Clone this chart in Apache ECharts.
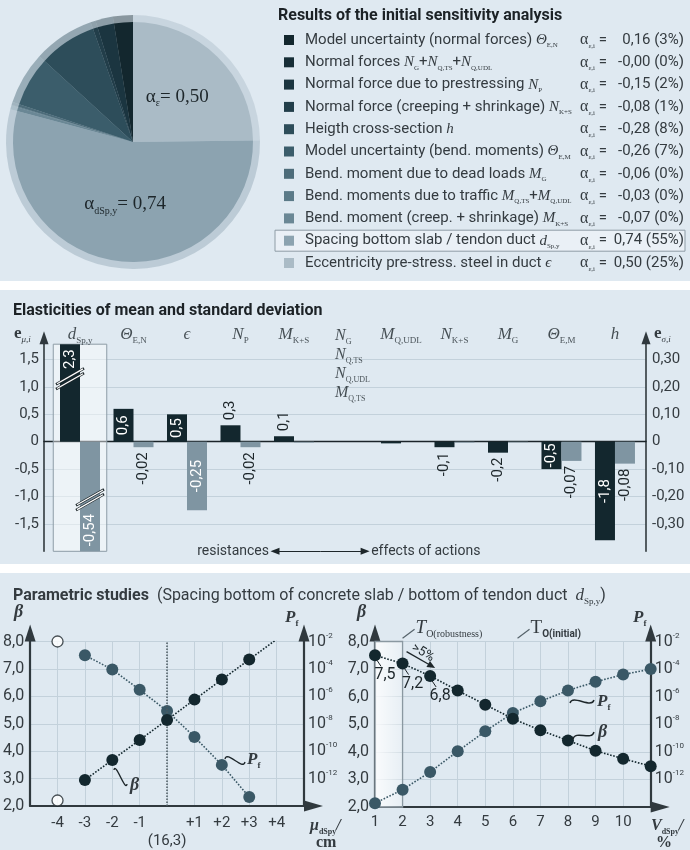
<!DOCTYPE html>
<html>
<head>
<meta charset="utf-8">
<script src="https://cdn.jsdelivr.net/npm/echarts@6.0.0/dist/echarts.min.js"></script>
<style>
html,body{margin:0;padding:0;background:#ffffff;}
#chart{width:690px;height:850px;}
</style>
</head>
<body>
<div id="chart"></div>
<script>
// ================= DATA =================
// Panel 1: sensitivity factors (legend order)
const factorNames = [
  '{t|Model uncertainty (normal forces) }{m|Θ}{s|E,N}',
  '{t|Normal forces }{m|N}{s|G}{t|+}{m|N}{s|Q,TS}{t|+}{m|N}{s|Q,UDL}',
  '{t|Normal force due to prestressing }{m|N}{s|P}',
  '{t|Normal force (creeping + shrinkage) }{m|N}{s|K+S}',
  '{t|Heigth cross-section }{m|h}',
  '{t|Model uncertainty (bend. moments) }{m|Θ}{s|E,M}',
  '{t|Bend. moment due to dead loads }{m|M}{s|G}',
  '{t|Bend. moments due to traffic }{m|M}{s|Q,TS}{t|+}{m|M}{s|Q,UDL}',
  '{t|Bend. moment (creep. + shrinkage) }{m|M}{s|K+S}',
  '{t|Spacing bottom slab / tendon duct }{m|d}{s|Sp,y}',
  '{t|Eccentricity pre-stress. steel in duct }{m|ϵ}'
];
const factorKeys = ['E,N', 'N', 'P', 'K+S', 'h', 'E,M', 'G', 'Q', 'K+S', 'dSp,y', 'ε'];
const alphaValues = [0.16, -0.00, -0.15, -0.08, -0.28, -0.26, -0.06, -0.03, -0.07, 0.74, 0.50];
const alphaShares = [3, 0, 2, 1, 8, 7, 0, 0, 0, 55, 25];
const factorColors = ['#13272e', '#172e37', '#1b3540', '#223e4a', '#2d4d5a', '#3b5d6b', '#4d6c7a', '#5b7a88', '#6a8795', '#8ca3b0', '#aabbc6'];

// Panel 2: elasticities
const elastCategories = [
  '{m|d}{s|Sp,y}', '{m|Θ}{s|E,N}', '{m|ϵ}', '{m|N}{s|P}', '{m|M}{s|K+S}',
  '{m|N}{s|G}\n{m|N}{s|Q,TS}\n{m|N}{s|Q,UDL}\n{m|M}{s|Q,TS}',
  '{m|M}{s|Q,UDL}', '{m|N}{s|K+S}', '{m|M}{s|G}', '{m|Θ}{s|E,M}', '{m|h}'
];
const elastMean = [2.3, 0.6, 0.5, 0.3, 0.1, 0, -0.03, -0.1, -0.2, -0.5, -1.8];
const elastStd = [-0.54, -0.02, -0.25, -0.02, -0.003, 0, 0, -0.003, -0.002, -0.07, -0.08];
const groupNames = ['resistances', 'effects of actions'];

// Panel 3 left: shift of mean of d_Sp,y
const muShift = [-3, -2, -1, 0, 1, 2, 3, 4];
const betaMu = [2.95, 3.68, 4.41, 5.14, 5.88, 6.61, 7.34, 8.08];
const muShiftPf = [-3, -2, -1, 0, 1, 2, 3];
const pfMu = [1.0e-3, 9e-5, 3e-6, 8.5e-8, 1.1e-9, 1e-11, 4.5e-14];
const muOutOfRange = [[-4, 2.2], [-4, 8.0]];
const muCenterLabel = '(16,3)';

// Panel 3 right: coefficient of variation of d_Sp,y
const vCoef = [1, 2, 3, 4, 5, 6, 7, 8, 9, 10, 11];
const betaV = [7.5, 7.2, 6.75, 6.22, 5.71, 5.2, 4.78, 4.41, 4.04, 3.75, 3.48];
const pfV = [1.9e-14, 1.8e-13, 3.5e-12, 1.1e-10, 3.1e-9, 6.6e-8, 4.6e-7, 2.8e-6, 1.2e-5, 4e-5, 1e-4];
const betaVLabelled = [0, 1, 2];
const tRobustness = 2;
const tInitial = 6.17;

// ================= STYLE =================
const SANS = 'Roboto, "Noto Sans", "DejaVu Sans", sans-serif';
const SERIF = '"Liberation Serif", "DejaVu Serif", serif';
const INK = '#1d262a';
const TXT = '#343b40';
const BG = '#dfe9f1';
const GRIDC = '#c3d1db';
const AX = '#30393e';
const DARK = '#13272e';
const MID = '#3a5866';
const GREY = '#7f95a2';

function comma(v, d) {
  const neg = v < 0 || Object.is(v, -0);
  return (neg ? '-' : '') + Math.abs(v).toFixed(d).replace('.', ',');
}
function rich(size, tSize, col, subSize) {
  col = col || INK;
  const lh = Math.round(size * 1.2);
  const ss = subSize || Math.max(7, Math.round(size * 0.5));
  return {
    t: {fontFamily: SANS, fontSize: tSize || size - 2, color: TXT, lineHeight: lh},
    q: {fontFamily: SANS, fontSize: tSize || size - 2, color: TXT, lineHeight: lh},
    m: {fontFamily: SERIF, fontStyle: 'italic', fontSize: size, color: col, lineHeight: lh},
    a: {fontFamily: SERIF, fontSize: size, color: col, lineHeight: lh},
    v: {fontFamily: SERIF, fontSize: size, color: col, lineHeight: lh},
    b: {fontFamily: SERIF, fontStyle: 'italic', fontWeight: 'bold', fontSize: size, color: col, lineHeight: lh},
    e: {fontFamily: SERIF, fontWeight: 'bold', fontSize: size, color: col, lineHeight: lh},
    s: {fontFamily: SERIF, fontSize: ss, color: col, lineHeight: Math.round(size * 0.62), verticalAlign: 'bottom'},
    si: {fontFamily: SERIF, fontStyle: 'italic', fontSize: Math.max(7, Math.round(size * 0.55)), color: col, lineHeight: Math.round(size * 0.62), verticalAlign: 'bottom'},
    sb: {fontFamily: SERIF, fontWeight: 'bold', fontSize: Math.max(7, Math.round(size * 0.52)), color: col, lineHeight: Math.round(size * 0.62), verticalAlign: 'bottom'},
    ss: {fontFamily: SANS, fontWeight: 'bold', fontSize: Math.max(7, Math.round(size * 0.5)), color: col, lineHeight: Math.round(size * 0.62), verticalAlign: 'bottom'}
  };
}

const meanAxis = {min: -2, max: 1.78};
const stdAxis = {min: -0.4, max: 0.356};
const BAR_H = 207.1;

function barLabel(v, axis, digits) {
  const span = axis.max - axis.min;
  const px = Math.abs(Math.max(Math.min(v, axis.max), axis.min)) / span * BAR_H;
  const base = {show: Math.abs(v) >= (digits === 1 ? 0.05 : 0.01), rotate: 90, verticalAlign: 'middle',
    fontFamily: SANS, fontSize: 15, formatter: comma(v, digits), distance: 5};
  if (v > axis.max) return Object.assign(base, {position: 'insideTop', align: 'right', color: '#ffffff'});
  if (v < axis.min) return Object.assign(base, {position: 'insideBottom', align: 'left', color: '#ffffff'});
  if (px >= 25) return Object.assign(base, {position: 'inside', align: 'center', color: '#ffffff'});
  return v >= 0 ? Object.assign(base, {position: 'top', align: 'left', color: INK})
                : Object.assign(base, {position: 'bottom', align: 'right', color: INK});
}

// ================= PIE DATA =================
const pieOrder = factorNames.map((_, i) => factorNames.length - 1 - i);
function pieData(outer) {
  return pieOrder.map(i => ({
    name: 'f' + i,
    value: alphaValues[i] * alphaValues[i],
    itemStyle: {color: factorColors[i], opacity: outer ? 0.42 : 1},
    label: (!outer && alphaShares[i] >= 20) ? {
      show: true, position: 'inside',
      formatter: '{a|α}{s|' + factorKeys[i] + '}{v|= ' + comma(alphaValues[i], 2) + '}',
      rich: rich(19)
    } : {show: false}
  }));
}

const chart = echarts.init(document.getElementById('chart'));

// P_f axes are drawn in decades (exponent of 10)
const expLabel = {
  interval: 0, showMinLabel: false, margin: 4,
  formatter: v => (v > -14 ? '{b|10}{p|' + Math.round(v) + '}' : ''),
  rich: {b: {fontFamily: SANS, fontSize: 16, color: TXT, lineHeight: 20}, p: {fontFamily: SANS, fontSize: 8, color: TXT, verticalAlign: 'top', lineHeight: 10}}
};
function betaAxis(g) {
  return {gridIndex: g, type: 'value', min: 2, max: 8, interval: 1,
    axisLine: {show: true, onZero: false, lineStyle: {color: AX, width: 2.2}, symbol: ['none', 'triangle'], symbolSize: [11, 17], symbolOffset: [0, 8.5]},
    axisTick: {show: false},
    axisLabel: {interval: 0, formatter: v => comma(v, 1), fontFamily: SANS, fontSize: 16, color: TXT, margin: 6},
    splitLine: {show: true, showMinLine: false, lineStyle: {color: GRIDC, width: 1}}};
}
function pfAxis(g) {
  return {gridIndex: g, type: 'value', min: -14, max: -2, interval: 2, position: 'right',
    axisLine: {show: true, onZero: false, lineStyle: {color: AX, width: 2.2}, symbol: ['none', 'triangle'], symbolSize: [11, 17], symbolOffset: [0, 8.5]},
    axisTick: {show: false}, axisLabel: expLabel, splitLine: {show: false}};
}
const decade = v => Math.log10(v);

const option = {
  animation: false,
  backgroundColor: '#ffffff',
  grid: [
    {left: 44, top: 344.2, width: 602, height: BAR_H},
    {left: 28, top: 641.5, width: 276, height: 165.5},
    {left: 375, top: 641.5, width: 275.7, height: 165.5}
  ],
  xAxis: [
    {gridIndex: 0, type: 'value', min: -0.673, max: 10.58,
      axisLine: {show: true, onZero: true, lineStyle: {color: '#1b2429', width: 1.3}},
      axisTick: {show: false}, axisLabel: {show: false}, splitLine: {show: false}},
    {gridIndex: 1, type: 'value', min: -5, max: 5, interval: 1,
      axisLine: {show: true, onZero: false, lineStyle: {color: AX, width: 2.2}, symbol: ['none', 'triangle'], symbolSize: [11, 19], symbolOffset: [0, 9.5]},
      axisTick: {show: false},
      axisLabel: {interval: 0, showMinLabel: false, showMaxLabel: false, fontFamily: SANS, fontSize: 15, color: TXT, margin: 8, lineHeight: 18,
        formatter: v => v === 0 ? '\n' + muCenterLabel : (v > 0 ? '+' + v : String(v))},
      splitLine: {show: true, showMinLine: false, showMaxLine: false, lineStyle: {color: GRIDC}}},
    {gridIndex: 2, type: 'value', min: 1, max: 11, interval: 1,
      axisLine: {show: true, onZero: false, lineStyle: {color: AX, width: 2.2}, symbol: ['none', 'triangle'], symbolSize: [11, 19], symbolOffset: [0, 9.5]},
      axisTick: {show: false},
      axisLabel: {interval: 0, showMaxLabel: false, fontFamily: SANS, fontSize: 15, color: TXT, margin: 8},
      splitLine: {show: true, showMinLine: false, showMaxLine: false, lineStyle: {color: GRIDC}}}
  ],
  yAxis: [
    {gridIndex: 0, type: 'value', min: meanAxis.min, max: meanAxis.max, interval: 0.5, position: 'left',
      axisLine: {show: true, onZero: false, lineStyle: {color: AX, width: 1.6}, symbol: ['none', 'triangle'], symbolSize: [9, 13], symbolOffset: [0, 6.5]},
      axisTick: {show: false},
      axisLabel: {interval: 0, showMinLabel: false, showMaxLabel: false, formatter: v => v === 0 ? '0' : comma(v, 1), fontFamily: SANS, fontSize: 15, color: TXT, margin: 5},
      splitLine: {show: true, showMinLine: false, showMaxLine: false, lineStyle: {color: GRIDC, width: 1}}},
    {gridIndex: 0, type: 'value', min: stdAxis.min, max: stdAxis.max, interval: 0.1, position: 'right',
      axisLine: {show: true, onZero: false, lineStyle: {color: AX, width: 1.6}, symbol: ['none', 'triangle'], symbolSize: [9, 13], symbolOffset: [0, 6.5]},
      axisTick: {show: false},
      axisLabel: {interval: 0, showMinLabel: false, showMaxLabel: false, formatter: v => Math.abs(v) < 1e-9 ? '0' : comma(v, 2), fontFamily: SANS, fontSize: 15, color: TXT, margin: 6},
      splitLine: {show: false}},
    betaAxis(1), pfAxis(1), betaAxis(2), pfAxis(2)
  ],
  series: [
    // ---- pie ----
    {type: 'pie', center: [133, 142], radius: [0, 127], startAngle: 90, clockwise: true, silent: true, z: 1,
      labelLine: {show: false}, data: pieData(true)},
    {type: 'pie', center: [133, 142], radius: [0, 120], startAngle: 90, clockwise: true, silent: true, z: 2,
      avoidLabelOverlap: false, labelLine: {show: false}, data: pieData(false)},
    // ---- bar chart decorations ----
    {type: 'line', xAxisIndex: 0, yAxisIndex: 0, data: [[0, 0]], symbol: 'none', lineStyle: {opacity: 0}, clip: false, z: 1, silent: true,
      markArea: {silent: true, itemStyle: {color: 'rgba(255,255,255,0.45)', borderColor: '#8d9ca6', borderWidth: 1},
        data: [[{coord: [-0.5, -2]}, {coord: [0.5, 2.2]}]]},
      markLine: {silent: true, symbol: 'none', lineStyle: {color: '#6e7b83', width: 1, type: 'solid'},
        label: {show: false},
        data: [
          [{coord: [4.5, -2]}, {coord: [4.5, 2.02]}],
          [{coord: [4.5, -2], symbol: 'none', label: {show: true, position: 'end', formatter: groupNames[0], color: TXT, fontFamily: SANS, fontSize: 14, distance: 6}, lineStyle: {color: INK, width: 1}},
           {coord: [3.645, -2], symbol: 'triangle', symbolSize: [7, 9]}],
          [{coord: [4.5, -2], symbol: 'none', label: {show: true, position: 'end', formatter: groupNames[1], color: TXT, fontFamily: SANS, fontSize: 14, distance: 6}, lineStyle: {color: INK, width: 1}},
           {coord: [5.33, -2], symbol: 'triangle', symbolSize: [7, 9]}]
        ]}},
    // ---- bars ----
    {type: 'bar', name: 'mean', xAxisIndex: 0, yAxisIndex: 0, barWidth: 20, barGap: '0%', z: 3,
      itemStyle: {color: DARK},
      data: elastMean.map((v, i) => ({value: [i, v], label: barLabel(v, meanAxis, 1)}))},
    {type: 'bar', name: 'std', xAxisIndex: 0, yAxisIndex: 1, barWidth: 20, barGap: '0%', z: 3,
      itemStyle: {color: GREY},
      data: elastStd.map((v, i) => ({value: [i, v], label: barLabel(v, stdAxis, 2)}))},
    // category labels
    {type: 'scatter', xAxisIndex: 0, yAxisIndex: 0, symbolSize: 1, itemStyle: {color: 'rgba(0,0,0,0)'}, silent: true, clip: false, z: 4,
      data: elastCategories.map((c, i) => ({
        value: [i, meanAxis.max],
        label: c.indexOf('\n') >= 0 ? {show: true, position: [-12, -17], align: 'left', verticalAlign: 'top', formatter: c, rich: rich(16), lineHeight: 15}
                                     : {show: true, position: 'top', distance: -1, formatter: c, rich: rich(17)}
      }))},
    // ---- parametric left ----
    {type: 'line', xAxisIndex: 1, yAxisIndex: 3, data: muShiftPf.map((x, i) => [x, decade(pfMu[i])]),
      symbol: 'circle', symbolSize: 12, itemStyle: {color: MID}, lineStyle: {type: 'dotted', width: 1.6, color: MID}, z: 4},
    {type: 'line', xAxisIndex: 1, yAxisIndex: 2, data: muShift.map((x, i) => [x, betaMu[i]]),
      symbol: 'circle', symbolSize: 12, itemStyle: {color: DARK}, lineStyle: {type: 'dotted', width: 1.6, color: DARK}, z: 5,
      markLine: {silent: true, symbol: 'none', label: {show: false}, lineStyle: {type: 'dotted', color: '#4c5960', width: 1.5},
        data: [{xAxis: 0}]}},
    {type: 'scatter', xAxisIndex: 1, yAxisIndex: 2, data: muOutOfRange, symbolSize: 11, clip: false, z: 5,
      itemStyle: {color: '#ffffff', borderColor: INK, borderWidth: 1.3}},
    // ---- parametric right ----
    {type: 'line', xAxisIndex: 2, yAxisIndex: 4, data: [[vCoef[0], 2]], symbol: 'none', lineStyle: {opacity: 0}, clip: false, z: 1, silent: true,
      markArea: {silent: true,
        itemStyle: {color: {type: 'linear', x: 0, y: 0, x2: 1, y2: 0, colorStops: [{offset: 0, color: 'rgba(255,255,255,0.85)'}, {offset: 1, color: 'rgba(255,255,255,0.25)'}]},
          borderColor: '#8a98a1', borderWidth: 1.3},
        data: [[{coord: [vCoef[0], 2]}, {coord: [tRobustness, 8.12]}]]},
      markLine: {silent: true, symbol: 'none', label: {show: false}, lineStyle: {type: 'solid', color: '#7d8a93', width: 2.4},
        data: [[{coord: [tInitial, 2]}, {coord: [tInitial, 8.12]}]]}},
    {type: 'line', xAxisIndex: 2, yAxisIndex: 5, data: vCoef.map((x, i) => [x, decade(pfV[i])]),
      symbol: 'circle', symbolSize: 12, itemStyle: {color: MID}, lineStyle: {type: 'dotted', width: 1.6, color: MID}, z: 4},
    {type: 'line', xAxisIndex: 2, yAxisIndex: 4, z: 5,
      data: vCoef.map((x, i) => ({value: [x, betaV[i]],
        label: betaVLabelled.indexOf(i) >= 0 ? {show: true, position: 'bottom', distance: 6, offset: [10, 0], formatter: comma(betaV[i], 1), fontFamily: SANS, fontSize: 16, color: INK} : {show: false}})),
      symbol: 'circle', symbolSize: 12, itemStyle: {color: DARK}, lineStyle: {type: 'dotted', width: 1.6, color: DARK}}
  ]
};
chart.setOption(option);

// ================= GRAPHIC OVERLAYS =================
function T(x, y, text, st, extra) {
  return Object.assign({type: 'text', x: x, y: y, z: 100, silent: true,
    style: Object.assign({text: text, fill: TXT, fontFamily: SANS, fontSize: 14, align: 'left', verticalAlign: 'middle'}, st || {})}, extra || {});
}
function L(x1, y1, x2, y2, col, w) {
  return {type: 'line', z: 100, silent: true, shape: {x1, y1, x2, y2}, style: {stroke: col || INK, lineWidth: w || 1}};
}
function curve(x1, y1, x2, y2) {
  const mx = (x1 + x2) / 2;
  return {type: 'bezierCurve', z: 100, silent: true,
    shape: {x1, y1, x2, y2, cpx1: x1 + (mx - x1) * 0.2, cpy1: y1 - 9, cpx2: x2 - (x2 - mx) * 0.2, cpy2: y2 + 9},
    style: {stroke: INK, lineWidth: 1.4, fill: null}};
}
function arrowHead(x, y, ang, len, wid) {
  const c = Math.cos(ang), s = Math.sin(ang);
  return {type: 'polygon', z: 100, silent: true,
    shape: {points: [[x, y], [x - len * c + wid * s, y - len * s - wid * c], [x - len * c - wid * s, y - len * s + wid * c]]},
    style: {fill: INK}};
}
function breakMark(cx, cy) {
  const dx = 14, dy = 8, gap = 2.4;
  const out = [];
  [-gap, gap].forEach(o => {
    out.push({type: 'line', z: 100, silent: true, shape: {x1: cx - dx, y1: cy + dy + o, x2: cx + dx, y2: cy - dy + o}, style: {stroke: INK, lineWidth: 2.6}});
  });
  [-gap, gap].forEach(o => {
    out.push({type: 'line', z: 101, silent: true, shape: {x1: cx - dx + 1, y1: cy + dy + o - 0.6, x2: cx + dx - 1, y2: cy - dy + o + 0.6}, style: {stroke: '#ffffff', lineWidth: 1.3}});
  });
  return out;
}

const px = (xa, ya, p) => chart.convertToPixel({xAxisIndex: xa, yAxisIndex: ya}, p);
const g = [];
// panels
[[0, 281], [290, 274], [573, 277]].forEach(r => g.push({type: 'rect', z: -100, silent: true, shape: {x: 0, y: r[0], width: 690, height: r[1]}, style: {fill: BG}}));

// --- panel 1 legend ---
g.push(T(278, 16, 'Results of the initial sensitivity analysis', {fontWeight: 'bold', fontSize: 16, fill: '#1c2226'}));
const legendRich = rich(15, 15, INK, 7);
factorNames.forEach((name, i) => {
  const y = 40 + 22.3 * i;
  if (alphaShares[i] >= 50) {
    g.push({type: 'rect', z: 90, silent: true, shape: {x: 275, y: y - 10.5, width: 410, height: 21}, style: {fill: 'rgba(255,255,255,0.35)', stroke: '#8e9ca5', lineWidth: 1}});
  }
  g.push({type: 'rect', z: 100, silent: true, shape: {x: 284, y: y - 5, width: 10, height: 10}, style: {fill: factorColors[i]}});
  g.push(T(305, y, name, {rich: legendRich}));
  g.push(T(580, y, '{a|α}{s|ε,i}{q| =}', {rich: rich(16, 15, INK, 7)}));
  g.push(T(684, y, comma(alphaValues[i], 2) + ' (' + alphaShares[i] + '%)', {align: 'right', fontSize: 15}));
});

// --- panel 2 ---
g.push(T(13, 311, 'Elasticities of mean and standard deviation', {fontWeight: 'bold', fontSize: 16, fill: '#1c2226'}));
g.push(T(14, 334, '{e|e}{si|μ,i}', {rich: rich(17)}));
g.push(T(654, 334, '{e|e}{si|σ,i}', {rich: rich(17)}));
const bTop = px(0, 0, [0, 1.15]);
breakMark(bTop[0] - 10, bTop[1]).forEach(e => g.push(e));
const bBot = px(0, 0, [0, -1.06]);
breakMark(bBot[0] + 10, bBot[1]).forEach(e => g.push(e));

// --- panel 3 ---
g.push(T(13, 596, '{h|Parametric studies}{r|  (Spacing bottom of concrete slab / bottom of tendon duct  }{m|d}{s|Sp,y}{r|)}',
  {rich: Object.assign(rich(17), {h: {fontFamily: SANS, fontWeight: 'bold', fontSize: 16, color: '#1c2226', lineHeight: 20}, r: {fontFamily: SANS, fontSize: 16, color: TXT, lineHeight: 20}})}));
// left chart names
g.push(T(14, 612, '{b|β}', {rich: rich(18)}));
g.push(T(285, 618, '{b|P}{sb|f}', {rich: rich(17)}));
g.push(T(310, 826, '{b|μ}{sb|dSpy}{b|/}', {rich: rich(16)}));
g.push(T(316, 843, '{e|cm}', {rich: rich(16)}));
g.push(curve(114, 770, 127, 784));
g.push(T(130, 785, '{b|β}', {rich: rich(18)}));
g.push(curve(225, 759, 245, 762));
g.push(T(247, 760, '{b|P}{sb|f}', {rich: rich(17)}));
// right chart names
g.push(T(357, 612, '{b|β}', {rich: rich(18)}));
g.push(T(633, 618, '{b|P}{sb|f}', {rich: rich(17)}));
g.push(T(651, 826, '{b|V}{sb|dSpy}{b|/}', {rich: rich(16)}));
g.push(T(656, 843, '{e|%}', {rich: rich(16)}));
g.push(curve(570, 703, 594, 700));
g.push(T(597, 702, '{b|P}{sb|f}', {rich: rich(17)}));
g.push(curve(573, 739, 594, 732));
g.push(T(598, 732, '{b|β}', {rich: rich(18)}));
// T labels
const tr = px(2, 4, [tRobustness, 8.12]);
g.push(L(tr[0], tr[1], tr[0] + 12, tr[1] - 9, '#56636b', 1.2));
g.push(T(tr[0] + 13, tr[1] - 10, '{m|T}{s|O(robustness)}', {rich: rich(19)}));
const ti = px(2, 4, [tInitial, 8.12]);
g.push(L(ti[0], ti[1], ti[0] + 12, ti[1] - 9, '#56636b', 1.2));
g.push(T(ti[0] + 13, ti[1] - 10, '{a|T}{ss|O(initial)}', {rich: rich(19)}));
// leader ticks for labelled beta points
betaVLabelled.forEach(i => {
  const p = px(2, 4, [vCoef[i], betaV[i]]);
  g.push(L(p[0] + 2, p[1] + 5, p[0] + 6, p[1] + 11, INK, 1));
});
// >5% arrow
const p2 = px(2, 4, [vCoef[1], betaV[1]]);
const p3 = px(2, 4, [vCoef[2], betaV[2]]);
const a1 = [p2[0] + 4, p2[1] - 12], a2 = [p3[0] + 5, p3[1] - 8];
const ang = Math.atan2(a2[1] - a1[1], a2[0] - a1[0]);
g.push(L(a1[0], a1[1], a2[0] - 4 * Math.cos(ang), a2[1] - 4 * Math.sin(ang), INK, 1.3));
g.push(arrowHead(a2[0], a2[1], ang, 8, 3.5));
g.push(T((a1[0] + a2[0]) / 2 + 2, (a1[1] + a2[1]) / 2 - 7, '>5%', {align: 'center', fontSize: 13, fill: INK}, {rotation: -ang}));

chart.setOption({graphic: {elements: g}});
</script>
</body>
</html>
